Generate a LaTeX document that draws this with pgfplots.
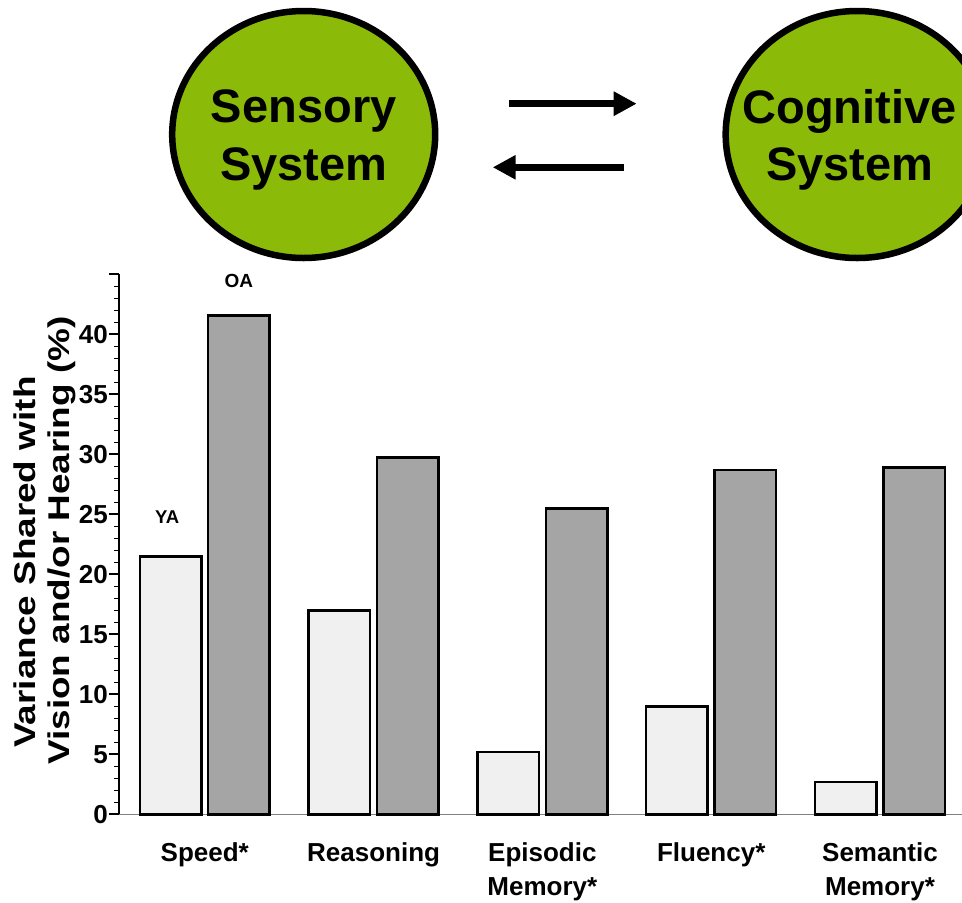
\documentclass[border=0pt]{standalone}
\usepackage{fontspec}
\setmainfont{Liberation Sans}
\usepackage{graphicx}
\usepackage{pgfplots}
\pgfplotsset{compat=1.18}
\usetikzlibrary{arrows.meta}
\definecolor{cgreen}{RGB}{139,186,8}
\definecolor{yacol}{RGB}{240,240,240}
\definecolor{oacol}{RGB}{165,165,165}
\begin{document}
\begin{tikzpicture}[x=1pt,y=1pt]
\clip (0,0) rectangle (962,-903);
\fill[white] (0,0) rectangle (962,-903);
% diagram on top
\draw[line width=6.5pt, fill=cgreen] (303.7,-134.5) ellipse [x radius=131.5pt, y radius=123.5pt];
\node[font=\fontsize{47}{57.5}\selectfont\bfseries, align=center, inner sep=0pt] at (303.7,-140) {Sensory\\System};
\draw[line width=6.5pt, fill=cgreen] (857.2,-134.5) ellipse [x radius=131.5pt, y radius=123.5pt];
\node[font=\fontsize{47}{57.5}\selectfont\bfseries, align=center, inner sep=0pt] at (849.6,-140) {Cognitive\\System};
\draw[line width=7pt, -{Triangle[length=23pt,width=23pt]}] (509,-103.7) -- (636.7,-103.7);
\draw[line width=7pt, -{Triangle[length=23pt,width=23pt]}] (624,-167.3) -- (492.7,-167.3);
% chart
\begin{axis}[
  at={(119pt,-814.3pt)}, anchor=south west,
  scale only axis, width=845.4pt, height=540pt,
  xmin=-0.508, xmax=4.5, ymin=0, ymax=45,
  ybar=6.9pt, bar width=61.5pt,
  axis x line=bottom, axis y line=left,
  axis line style={-},
  x axis line style={draw=gray, line width=1.5pt},
  y axis line style={draw=black, line width=2.5pt},
  xtick={0,1,2,3,4},
  xticklabels={Speed*,Reasoning,{Episodic\\Memory*},Fluency*,{Semantic\\Memory*}},
  x tick style={draw=none},
  xticklabel style={align=center, anchor=north, font=\fontsize{26}{34}\selectfont\bfseries, yshift=-15pt},
  ytick={0,5,...,45},
  yticklabels={0,5,10,15,20,25,30,35,40,},
  minor y tick num=4,
  tick align=outside,
  major tick style={black, line width=2pt},
  minor tick style={black, line width=1.5pt},
  major tick length=10pt, minor tick length=5pt,
  yticklabel style={font=\fontsize{26}{26}\selectfont\bfseries, inner xsep=1pt},
  clip=false,
]
\addplot[fill=yacol, draw=black, line width=2.5pt] coordinates {(0,21.5) (1,17.0) (2,5.2) (3,9.0) (4,2.7)};
\addplot[fill=oacol, draw=black, line width=2.5pt] coordinates {(0,41.55) (1,29.75) (2,25.5) (3,28.7) (4,28.9)};
\node[font=\fontsize{18.5}{20}\selectfont\bfseries] at (axis cs:-0.223,24.73) {YA};
\node[font=\fontsize{19}{20}\selectfont\bfseries] at (axis cs:0.2026,44.47) {OA};
\end{axis}
\node[rotate=90, anchor=base, inner sep=0pt, font=\fontsize{30}{36}\selectfont\bfseries] at (35,-562) {\scalebox{1.23}[1]{Variance Shared with}};
\node[rotate=90, anchor=base, inner sep=0pt, font=\fontsize{30}{36}\selectfont\bfseries] at (69.5,-540.5) {\scalebox{1.23}[1]{Vision and/or Hearing (\%)}};
\end{tikzpicture}
\end{document}
